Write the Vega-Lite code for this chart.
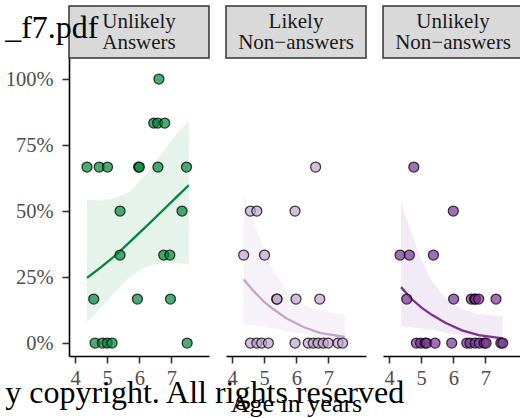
{
  "$schema": "https://vega.github.io/schema/vega-lite/v6.json",
  "padding": {"left": 5, "top": 5, "right": 0, "bottom": 0},
  "background": "white",
  "title": {"text": "_f7.pdf", "subtitle": "y copyright. All rights reserved", "orient": "top", "anchor": "start", "offset": -405, "font": "Liberation Serif", "fontSize": 32, "fontWeight": "normal", "color": "black", "subtitleFont": "Liberation Serif", "subtitleFontSize": 32, "subtitleColor": "black", "subtitlePadding": 333},
  "config": {
    "font": "Liberation Serif",
    "view": {"stroke": null},
    "concat": {"spacing": 15},
    "axis": {"grid": false, "domainColor": "black", "domainWidth": 1.6, "tickColor": "#333333", "tickWidth": 1.6, "tickSize": 7, "labelColor": "#4D4D4D", "labelFont": "Liberation Serif", "labelFontSize": 20.5, "labelPadding": 5, "titleFont": "Liberation Serif", "titleFontSize": 26, "titleFontWeight": "normal", "titleColor": "black", "titlePadding": 2}
  },
  "datasets": {
    "strips": [
      {"panel": "A", "label": "Unlikely\nAnswers"},
      {"panel": "B", "label": "Likely\nNon−answers"},
      {"panel": "C", "label": "Unlikely\nNon−answers"}
    ],
    "fits": [
      {"panel": "A", "age": 4.37, "fit": 0.247, "lo": 0.081, "hi": 0.544},
      {"panel": "A", "age": 4.80, "fit": 0.287, "lo": 0.134, "hi": 0.540},
      {"panel": "A", "age": 5.22, "fit": 0.328, "lo": 0.191, "hi": 0.548},
      {"panel": "A", "age": 5.73, "fit": 0.386, "lo": 0.254, "hi": 0.576},
      {"panel": "A", "age": 6.25, "fit": 0.446, "lo": 0.292, "hi": 0.645},
      {"panel": "A", "age": 6.76, "fit": 0.506, "lo": 0.304, "hi": 0.727},
      {"panel": "A", "age": 7.18, "fit": 0.556, "lo": 0.302, "hi": 0.797},
      {"panel": "A", "age": 7.54, "fit": 0.598, "lo": 0.300, "hi": 0.841},
      {"panel": "B", "age": 4.36, "fit": 0.241, "lo": 0.071, "hi": 0.557},
      {"panel": "B", "age": 4.67, "fit": 0.197, "lo": 0.067, "hi": 0.462},
      {"panel": "B", "age": 4.98, "fit": 0.158, "lo": 0.062, "hi": 0.361},
      {"panel": "B", "age": 5.29, "fit": 0.128, "lo": 0.056, "hi": 0.273},
      {"panel": "B", "age": 5.70, "fit": 0.093, "lo": 0.045, "hi": 0.197},
      {"panel": "B", "age": 6.22, "fit": 0.061, "lo": 0.033, "hi": 0.146},
      {"panel": "B", "age": 6.73, "fit": 0.039, "lo": 0.020, "hi": 0.121},
      {"panel": "B", "age": 7.51, "fit": 0.023, "lo": 0.010, "hi": 0.109},
      {"panel": "C", "age": 4.37, "fit": 0.212, "lo": 0.064, "hi": 0.531},
      {"panel": "C", "age": 4.71, "fit": 0.166, "lo": 0.060, "hi": 0.412},
      {"panel": "C", "age": 5.02, "fit": 0.133, "lo": 0.055, "hi": 0.311},
      {"panel": "C", "age": 5.33, "fit": 0.107, "lo": 0.050, "hi": 0.235},
      {"panel": "C", "age": 5.75, "fit": 0.077, "lo": 0.039, "hi": 0.172},
      {"panel": "C", "age": 6.27, "fit": 0.048, "lo": 0.030, "hi": 0.128},
      {"panel": "C", "age": 6.79, "fit": 0.030, "lo": 0.020, "hi": 0.109},
      {"panel": "C", "age": 7.54, "fit": 0.018, "lo": 0.010, "hi": 0.102}
    ],
    "points": [
      {"panel": "A", "age": 6.61, "prop": 1},
      {"panel": "A", "age": 6.45, "prop": 0.8333},
      {"panel": "A", "age": 6.57, "prop": 0.8333},
      {"panel": "A", "age": 6.79, "prop": 0.8333},
      {"panel": "A", "age": 4.37, "prop": 0.6667},
      {"panel": "A", "age": 4.75, "prop": 0.6667},
      {"panel": "A", "age": 5.01, "prop": 0.6667},
      {"panel": "A", "age": 5.98, "prop": 0.6667},
      {"panel": "A", "age": 6.00, "prop": 0.6667},
      {"panel": "A", "age": 6.58, "prop": 0.6667},
      {"panel": "A", "age": 7.47, "prop": 0.6667},
      {"panel": "A", "age": 5.40, "prop": 0.5},
      {"panel": "A", "age": 7.33, "prop": 0.5},
      {"panel": "A", "age": 5.40, "prop": 0.3333},
      {"panel": "A", "age": 6.76, "prop": 0.3333},
      {"panel": "A", "age": 6.95, "prop": 0.3333},
      {"panel": "A", "age": 4.58, "prop": 0.1667},
      {"panel": "A", "age": 5.94, "prop": 0.1667},
      {"panel": "A", "age": 6.97, "prop": 0.1667},
      {"panel": "A", "age": 4.62, "prop": 0},
      {"panel": "A", "age": 4.85, "prop": 0},
      {"panel": "A", "age": 5.00, "prop": 0},
      {"panel": "A", "age": 5.15, "prop": 0},
      {"panel": "A", "age": 7.49, "prop": 0},
      {"panel": "B", "age": 6.60, "prop": 0.6667},
      {"panel": "B", "age": 4.57, "prop": 0.5},
      {"panel": "B", "age": 4.77, "prop": 0.5},
      {"panel": "B", "age": 5.96, "prop": 0.5},
      {"panel": "B", "age": 4.36, "prop": 0.3333},
      {"panel": "B", "age": 5.01, "prop": 0.3333},
      {"panel": "B", "age": 5.39, "prop": 0.1667},
      {"panel": "B", "age": 5.40, "prop": 0.1667},
      {"panel": "B", "age": 5.99, "prop": 0.1667},
      {"panel": "B", "age": 6.73, "prop": 0.1667},
      {"panel": "B", "age": 4.57, "prop": 0},
      {"panel": "B", "age": 4.77, "prop": 0},
      {"panel": "B", "age": 4.92, "prop": 0},
      {"panel": "B", "age": 5.13, "prop": 0},
      {"panel": "B", "age": 5.96, "prop": 0},
      {"panel": "B", "age": 6.37, "prop": 0},
      {"panel": "B", "age": 6.53, "prop": 0},
      {"panel": "B", "age": 6.68, "prop": 0},
      {"panel": "B", "age": 6.84, "prop": 0},
      {"panel": "B", "age": 6.99, "prop": 0},
      {"panel": "B", "age": 7.30, "prop": 0},
      {"panel": "B", "age": 7.44, "prop": 0},
      {"panel": "C", "age": 4.77, "prop": 0.6667},
      {"panel": "C", "age": 6.00, "prop": 0.5},
      {"panel": "C", "age": 4.34, "prop": 0.3333},
      {"panel": "C", "age": 4.63, "prop": 0.3333},
      {"panel": "C", "age": 5.38, "prop": 0.3333},
      {"panel": "C", "age": 4.55, "prop": 0.1667},
      {"panel": "C", "age": 6.01, "prop": 0.1667},
      {"panel": "C", "age": 6.56, "prop": 0.1667},
      {"panel": "C", "age": 6.66, "prop": 0.1667},
      {"panel": "C", "age": 6.69, "prop": 0.1667},
      {"panel": "C", "age": 6.79, "prop": 0.1667},
      {"panel": "C", "age": 7.33, "prop": 0.1667},
      {"panel": "C", "age": 4.85, "prop": 0},
      {"panel": "C", "age": 4.98, "prop": 0},
      {"panel": "C", "age": 5.12, "prop": 0},
      {"panel": "C", "age": 5.17, "prop": 0},
      {"panel": "C", "age": 5.43, "prop": 0},
      {"panel": "C", "age": 5.95, "prop": 0},
      {"panel": "C", "age": 6.42, "prop": 0},
      {"panel": "C", "age": 6.52, "prop": 0},
      {"panel": "C", "age": 6.68, "prop": 0},
      {"panel": "C", "age": 6.81, "prop": 0},
      {"panel": "C", "age": 6.96, "prop": 0},
      {"panel": "C", "age": 7.02, "prop": 0},
      {"panel": "C", "age": 7.48, "prop": 0},
      {"panel": "C", "age": 7.54, "prop": 0}
    ]
  },
  "hconcat": [
    {
      "spacing": 0,
      "bounds": "flush",
      "vconcat": [
        {
          "width": 140, "height": 52,
          "data": {"name": "strips"},
          "transform": [{"filter": "datum.panel === 'A'"}],
          "view": {"fill": "#D9D9D9", "stroke": "#333333", "strokeWidth": 1.5},
          "mark": {"type": "text", "lineBreak": "\n", "fontSize": 21, "lineHeight": 21, "dy": -10, "color": "#1A1A1A", "align": "center", "baseline": "middle"},
          "encoding": {"text": {"field": "label"}}
        },
        {
          "width": 140, "height": 298,
          "layer": [
            {
              "data": {"name": "fits"},
              "transform": [{"filter": "datum.panel === 'A'"}],
              "mark": {"type": "area", "color": "#008837", "opacity": 0.1},
              "encoding": {
                "x": {"field": "age", "type": "quantitative", "scale": {"domain": [3.81, 8.17], "nice": false, "zero": false}, "axis": {"values": [4, 5, 6, 7], "format": "d", "title": null}},
                "y": {"field": "lo", "type": "quantitative", "scale": {"domain": [-0.049, 1.08], "nice": false, "zero": false}, "axis": {"values": [0, 0.25, 0.5, 0.75, 1], "format": ".0%", "title": null, "labelPadding": 9}},
                "y2": {"field": "hi"}
              }
            },
            {
              "data": {"name": "fits"},
              "transform": [{"filter": "datum.panel === 'A'"}],
              "mark": {"type": "line", "color": "#008837", "strokeWidth": 2.3},
              "encoding": {
                "x": {"field": "age", "type": "quantitative"},
                "y": {"field": "fit", "type": "quantitative"}
              }
            },
            {
              "data": {"name": "points"},
              "transform": [{"filter": "datum.panel === 'A'"}],
              "mark": {"type": "point", "shape": "circle", "filled": true, "fill": "#008837", "fillOpacity": 0.7, "stroke": "black", "strokeOpacity": 0.75, "strokeWidth": 1.3, "size": 100},
              "encoding": {
                "x": {"field": "age", "type": "quantitative"},
                "y": {"field": "prop", "type": "quantitative"}
              }
            }
          ]
        }
      ]
    },
    {
      "spacing": 0,
      "bounds": "flush",
      "vconcat": [
        {
          "width": 140, "height": 52,
          "data": {"name": "strips"},
          "transform": [{"filter": "datum.panel === 'B'"}],
          "view": {"fill": "#D9D9D9", "stroke": "#333333", "strokeWidth": 1.5},
          "mark": {"type": "text", "lineBreak": "\n", "fontSize": 21, "lineHeight": 21, "dy": -10, "color": "#1A1A1A", "align": "center", "baseline": "middle"},
          "encoding": {"text": {"field": "label"}}
        },
        {
          "width": 140, "height": 298,
          "layer": [
            {
              "data": {"name": "fits"},
              "transform": [{"filter": "datum.panel === 'B'"}],
              "mark": {"type": "area", "color": "#C2A5CF", "opacity": 0.15},
              "encoding": {
                "x": {"field": "age", "type": "quantitative", "scale": {"domain": [3.81, 8.17], "nice": false, "zero": false}, "axis": {"values": [4, 5, 6, 7], "format": "d", "title": "Age in years"}},
                "y": {"field": "lo", "type": "quantitative", "scale": {"domain": [-0.049, 1.08], "nice": false, "zero": false}, "axis": null},
                "y2": {"field": "hi"}
              }
            },
            {
              "data": {"name": "fits"},
              "transform": [{"filter": "datum.panel === 'B'"}],
              "mark": {"type": "line", "color": "#C2A5CF", "strokeWidth": 2.3},
              "encoding": {
                "x": {"field": "age", "type": "quantitative"},
                "y": {"field": "fit", "type": "quantitative"}
              }
            },
            {
              "data": {"name": "points"},
              "transform": [{"filter": "datum.panel === 'B'"}],
              "mark": {"type": "point", "shape": "circle", "filled": true, "fill": "#C2A5CF", "fillOpacity": 0.7, "stroke": "black", "strokeOpacity": 0.75, "strokeWidth": 1.3, "size": 100},
              "encoding": {
                "x": {"field": "age", "type": "quantitative"},
                "y": {"field": "prop", "type": "quantitative"}
              }
            }
          ]
        }
      ]
    },
    {
      "spacing": 0,
      "bounds": "flush",
      "vconcat": [
        {
          "width": 140, "height": 52,
          "data": {"name": "strips"},
          "transform": [{"filter": "datum.panel === 'C'"}],
          "view": {"fill": "#D9D9D9", "stroke": "#333333", "strokeWidth": 1.5},
          "mark": {"type": "text", "lineBreak": "\n", "fontSize": 21, "lineHeight": 21, "dy": -10, "color": "#1A1A1A", "align": "center", "baseline": "middle"},
          "encoding": {"text": {"field": "label"}}
        },
        {
          "width": 140, "height": 298,
          "layer": [
            {
              "data": {"name": "fits"},
              "transform": [{"filter": "datum.panel === 'C'"}],
              "mark": {"type": "area", "color": "#7B3294", "opacity": 0.1},
              "encoding": {
                "x": {"field": "age", "type": "quantitative", "scale": {"domain": [3.81, 8.17], "nice": false, "zero": false}, "axis": {"values": [4, 5, 6, 7], "format": "d", "title": null}},
                "y": {"field": "lo", "type": "quantitative", "scale": {"domain": [-0.049, 1.08], "nice": false, "zero": false}, "axis": null},
                "y2": {"field": "hi"}
              }
            },
            {
              "data": {"name": "fits"},
              "transform": [{"filter": "datum.panel === 'C'"}],
              "mark": {"type": "line", "color": "#7B3294", "strokeWidth": 2.3},
              "encoding": {
                "x": {"field": "age", "type": "quantitative"},
                "y": {"field": "fit", "type": "quantitative"}
              }
            },
            {
              "data": {"name": "points"},
              "transform": [{"filter": "datum.panel === 'C'"}],
              "mark": {"type": "point", "shape": "circle", "filled": true, "fill": "#7B3294", "fillOpacity": 0.7, "stroke": "black", "strokeOpacity": 0.75, "strokeWidth": 1.3, "size": 100},
              "encoding": {
                "x": {"field": "age", "type": "quantitative"},
                "y": {"field": "prop", "type": "quantitative"}
              }
            }
          ]
        }
      ]
    }
  ]
}
